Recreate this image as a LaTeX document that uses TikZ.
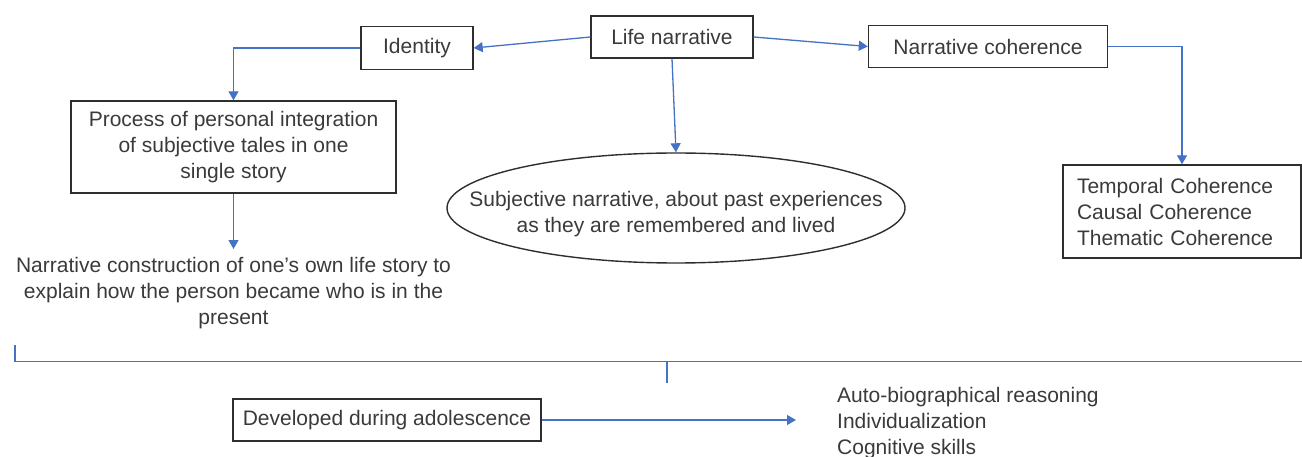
\documentclass[tikz,border=0pt]{standalone}
\usepackage{fontspec}
\setmainfont{Liberation Sans}
\usetikzlibrary{arrows.meta,shapes.geometric}
\definecolor{ink}{HTML}{3A3A3A}
\definecolor{frame}{HTML}{2E2E2E}
\definecolor{link}{HTML}{4472C4}
\begin{document}
\begin{tikzpicture}[x=1pt,y=-1pt,
  every node/.style={text=ink,font=\fontsize{21}{26}\selectfont},
  box/.style={draw=frame,line width=1.4pt,inner sep=0pt,align=center},
  plain/.style={inner sep=0pt,align=center},
  conn/.style={draw=link,line width=1.3pt},
  arr/.style={conn,-{Triangle[width=10pt,length=9pt]}}]
\useasboundingbox (0,0) rectangle (1302,457);

% top row
\node[box,minimum width=162pt,minimum height=42pt] (life) at (672,37) {Life narrative};
\node[box,minimum width=112pt,minimum height=43pt] (ident) at (417,48) {Identity};
\node[box,minimum width=239pt,minimum height=42pt] (coh) at (988,46.5) {Narrative coherence};

% left branch
\node[box,minimum width=325pt,minimum height=92pt] (proc) at (233.5,147)
  {Process of personal integration\\of subjective tales in one\\single story};
\node[plain,inner sep=8pt] (constr) at (233.5,293)
  {Narrative construction of one’s own life story to\\explain how the person became who is in the\\present};

% centre branch
\node[draw=frame,line width=1.4pt,ellipse,inner sep=0pt,
      minimum width=458pt,minimum height=110pt] (ell) at (676,208) {};
\node[plain] (elltext) at ([yshift=-6pt]ell.center)
  {Subjective narrative, about past experiences\\as they are remembered and lived};

% right branch
\node[box,minimum width=238pt,minimum height=93pt,text width=210pt,align=left] (kinds) at (1182,211.5)
  {Temporal Coherence\\Causal Coherence\\Thematic Coherence};

% bottom row
\node[box,minimum width=308pt,minimum height=42pt] (devel) at (387,420) {Developed during adolescence};
\node[plain,align=left,anchor=west] (skills) at (837,423)
  {Auto-biographical reasoning\\Individualization\\Cognitive skills};

% connectors
\draw[arr] (life.west) -- (ident.east);
\draw[arr] (life.east) -- (coh.west);
\draw[arr] (life.south) -- (ell.north);
\draw[arr] (ident.west) -| (proc.north);
\draw[arr] (proc.south) -- (constr.north);
\draw[arr] (coh.east) -| (kinds.north);

% bracket gathering the upper part
\coordinate (bl) at (15,345);
\coordinate (bc) at (15,361.5);
\coordinate (br) at (1302,361.5);
\coordinate (tm) at (667,361.5);
\coordinate (tb) at (667,383);
\draw[conn] (bl) -- (bc) -- (br);
\draw[conn] (tm) -- (tb);

\coordinate (tip) at (796,420);
\draw[arr] (devel.east) -- (tip);
\end{tikzpicture}
\end{document}
